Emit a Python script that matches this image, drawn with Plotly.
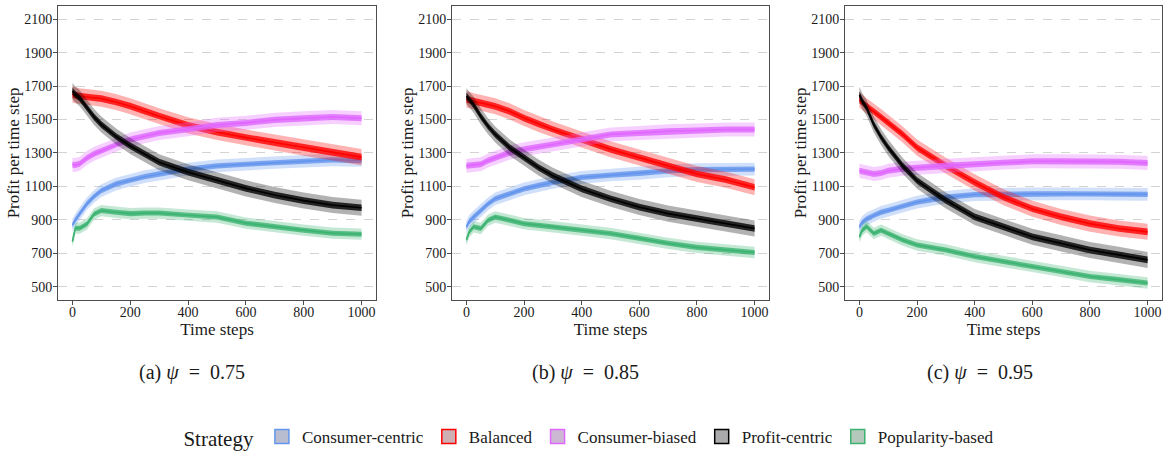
import plotly.graph_objects as go

# ---------------- data ----------------
T = [0, 10, 25, 50, 75, 100, 150, 200, 250, 300, 400, 500, 600, 700, 800, 900, 1000]

STRATEGIES = ["Consumer-centric", "Balanced", "Consumer-biased", "Profit-centric", "Popularity-based"]
PANELS = ["(a) <i>ψ</i>  =  0.75", "(b) <i>ψ</i>  =  0.85", "(c) <i>ψ</i>  =  0.95"]

# panel (a) psi = 0.75
a_consumer_centric = [868, 900, 937, 996, 1040, 1075, 1114, 1138, 1158, 1174, 1203, 1223, 1233, 1243, 1253, 1259, 1255]
a_balanced         = [1650, 1645, 1640, 1635, 1630, 1625, 1605, 1580, 1550, 1520, 1465, 1425, 1392, 1362, 1332, 1302, 1275]
a_consumer_biased  = [1230, 1228, 1235, 1270, 1295, 1312, 1350, 1380, 1400, 1420, 1442, 1468, 1480, 1498, 1508, 1515, 1508]
a_profit_centric   = [1670, 1650, 1628, 1570, 1515, 1470, 1400, 1342, 1292, 1245, 1185, 1135, 1088, 1048, 1015, 988, 972]
a_popularity_based = [770, 850, 850, 875, 935, 955, 945, 937, 940, 940, 927, 917, 880, 858, 838, 820, 814]

# panel (b) psi = 0.85
b_consumer_centric = [858, 890, 917, 956, 995, 1026, 1055, 1085, 1105, 1124, 1154, 1168, 1178, 1193, 1200, 1203, 1203]
b_balanced         = [1620, 1618, 1610, 1598, 1590, 1579, 1549, 1509, 1474, 1440, 1381, 1322, 1272, 1223, 1174, 1140, 1095]
b_consumer_biased  = [1223, 1225, 1228, 1233, 1255, 1272, 1302, 1322, 1338, 1351, 1381, 1411, 1420, 1430, 1434, 1440, 1440]
b_profit_centric   = [1640, 1620, 1588, 1519, 1460, 1411, 1332, 1272, 1213, 1164, 1085, 1026, 976, 937, 907, 877, 848]
b_popularity_based = [780, 828, 858, 848, 897, 917, 897, 877, 868, 858, 838, 818, 789, 759, 735, 719, 704]

# panel (c) psi = 0.95
c_consumer_centric = [858, 885, 905, 927, 945, 956, 982, 1006, 1022, 1035, 1051, 1055, 1055, 1055, 1055, 1055, 1052]
c_balanced         = [1618, 1600, 1580, 1549, 1515, 1480, 1411, 1332, 1276, 1223, 1124, 1035, 966, 917, 877, 848, 828]
c_consumer_biased  = [1193, 1190, 1182, 1174, 1180, 1193, 1205, 1213, 1218, 1223, 1233, 1243, 1250, 1250, 1250, 1248, 1240]
c_profit_centric   = [1648, 1610, 1569, 1470, 1395, 1332, 1223, 1134, 1075, 1016, 917, 858, 798, 759, 719, 690, 660]
c_popularity_based = [798, 838, 860, 818, 838, 818, 779, 749, 735, 719, 680, 650, 621, 591, 561, 542, 522]

# typical fluctuation of each series around its trend (core / spikes)
NOISE_CORE  = [16, 20, 18, 20, 15]
NOISE_SPIKE = [38, 48, 42, 48, 34]

Y_TICKS = [500, 700, 900, 1100, 1300, 1500, 1700, 1900, 2100]
X_TICKS = [0, 200, 400, 600, 800, 1000]

PANEL_DATA = [
    [a_consumer_centric, a_balanced, a_consumer_biased, a_profit_centric, a_popularity_based],
    [b_consumer_centric, b_balanced, b_consumer_biased, b_profit_centric, b_popularity_based],
    [c_consumer_centric, c_balanced, c_consumer_biased, c_profit_centric, c_popularity_based],
]

# ---------------- styling ----------------
COLORS = ["100,149,237", "255,0,0", "224,102,255", "0,0,0", "60,179,113"]
KEY_FILL = ["184,190,208", "206,176,180", "204,184,210", "170,170,172", "180,200,188"]
FONT = "Liberation Serif"
TXT = "#1a1a1a"
W, H = 1168, 457
PX_DOMAINS = [(58, 376), (452, 769), (845, 1162)]
Y_DOMAIN = [1 - 304 / H, 1 - 6 / H]

fig = go.Figure()

for p, series_list in enumerate(PANEL_DATA):
    xa = "x" if p == 0 else f"x{p + 1}"
    ya = "y" if p == 0 else f"y{p + 1}"
    for s, vals in enumerate(series_list):
        rgb = COLORS[s]
        for hw, alpha in ((NOISE_SPIKE[s], 0.30), (NOISE_CORE[s], 0.80)):
            up = [v + hw for v in vals]
            lo = [v - hw for v in vals]
            fig.add_trace(go.Scatter(
                x=T + T[::-1], y=up + lo[::-1], xaxis=xa, yaxis=ya,
                mode="lines", fill="toself", fillcolor=f"rgba({rgb},{alpha})",
                line=dict(width=0), hoverinfo="skip", showlegend=False,
            ))
        fig.add_trace(go.Scatter(
            x=T, y=vals, xaxis=xa, yaxis=ya, mode="lines",
            line=dict(color=f"rgb({rgb})", width=1.6),
            name=STRATEGIES[s], showlegend=False,
        ))

# legend-only entries (boxed keys like the reference)
for s, name in enumerate(STRATEGIES):
    fig.add_trace(go.Scatter(
        x=[None], y=[None], mode="markers",
        marker=dict(symbol="square", size=14, color=f"rgb({KEY_FILL[s]})",
                    line=dict(color=f"rgb({COLORS[s]})", width=1.5)),
        name=name, showlegend=True,
    ))

axis_common = dict(
    showline=True, linecolor="#4d4d4d", linewidth=1, mirror=True,
    ticks="outside", ticklen=4, tickcolor="#4d4d4d",
    tickfont=dict(family=FONT, size=14, color=TXT),
    zeroline=False,
)

layout = dict(
    width=W, height=H, margin=dict(l=0, r=0, t=0, b=0),
    paper_bgcolor="white", plot_bgcolor="white",
    font=dict(family=FONT, color=TXT),
    showlegend=True,
    legend=dict(
        orientation="h", x=0.5055, xanchor="center", y=1 - 444 / H, yanchor="middle",
        title=dict(text="Strategy", side="left", font=dict(family=FONT, size=21, color=TXT)),
        font=dict(family=FONT, size=17, color=TXT),
        itemwidth=30, tracegroupgap=0,
    ),
)

for p, (x0, x1) in enumerate(PX_DOMAINS):
    sfx = "" if p == 0 else str(p + 1)
    layout[f"xaxis{sfx}"] = dict(
        domain=[x0 / W, x1 / W], range=[-50, 1050], tickvals=X_TICKS,
        showgrid=False, anchor=f"y{sfx}", ticklabelstandoff=-5,
        title=dict(text="Time steps", font=dict(family=FONT, size=17, color=TXT), standoff=0),
        **axis_common,
    )
    layout[f"yaxis{sfx}"] = dict(
        domain=Y_DOMAIN, range=[420, 2180], tickvals=Y_TICKS,
        showgrid=True, gridcolor="#d3d3d3", gridwidth=1, griddash="dash",
        anchor=f"x{sfx}", ticklabelstandoff=-2,
        title=dict(text="Profit per time step", font=dict(family=FONT, size=17, color=TXT), standoff=0),
        **axis_common,
    )

fig.update_layout(**layout)

caption_x = [192, 585, 980]
for p, text in enumerate(PANELS):
    fig.add_annotation(
        x=caption_x[p] / W, y=1 - 377 / H, xref="paper", yref="paper",
        text=text.replace("  ", "&nbsp; "), showarrow=False, xanchor="center", yanchor="middle",
        font=dict(family=FONT, size=20, color=TXT),
    )

fig.write_html("out.html", config={"displayModeBar": False},
               post_script="document.body.style.margin='0';")
